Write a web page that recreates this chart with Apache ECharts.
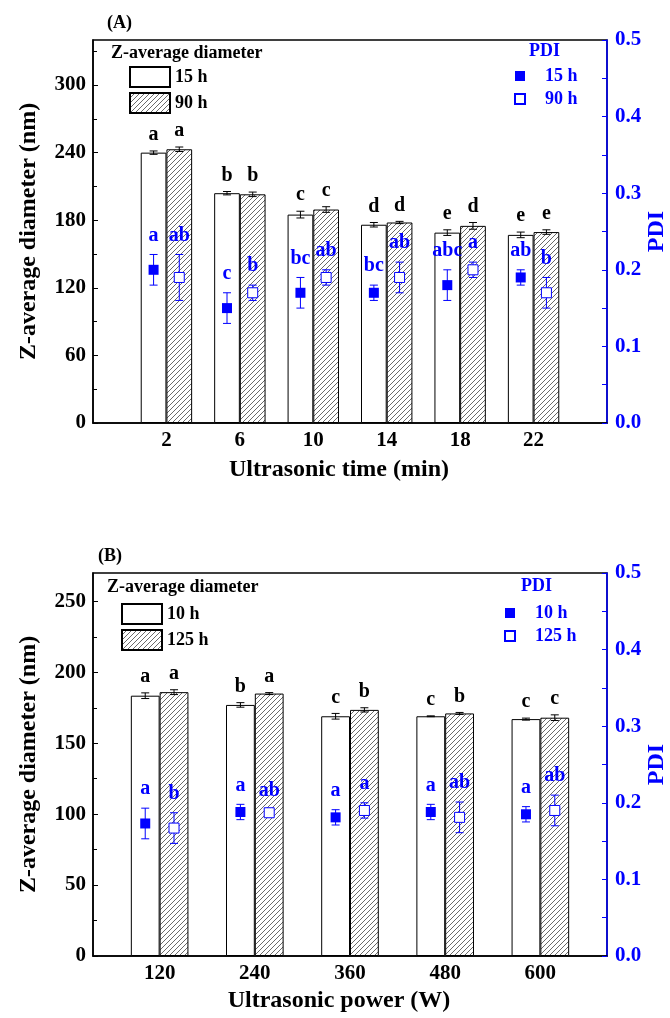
<!DOCTYPE html>
<html>
<head>
<meta charset="utf-8">
<script src="https://cdn.jsdelivr.net/npm/echarts@6/dist/echarts.min.js"></script>
<style>
  html, body { margin: 0; padding: 0; background: #fff; overflow: hidden; }
  #chart { width: 670px; height: 1018px; }
</style>
</head>
<body>
<div id="chart"></div>
<script>
// ---- Panel A: ultrasonic time ----
const timeMin = [2, 6, 10, 14, 18, 22];
const zAvg15h = [240, 204, 185, 176, 169, 167];
const zErr15h = [1.5, 1.5, 3, 2, 2.5, 2.5];
const zAvg90h = [243, 203, 189.5, 178, 175, 169.5];
const zErr90h = [2, 2, 2.5, 1, 3, 2];
const pdi15h = [0.20, 0.15, 0.17, 0.17, 0.18, 0.19];
const pdiErr15h = [0.02, 0.02, 0.02, 0.01, 0.02, 0.01];
const pdi90h = [0.19, 0.17, 0.19, 0.19, 0.20, 0.17];
const pdiErr90h = [0.03, 0.01, 0.01, 0.02, 0.01, 0.02];
const sigZ15h = ['a', 'b', 'c', 'd', 'e', 'e'];
const sigZ90h = ['a', 'b', 'c', 'd', 'd', 'e'];
const sigP15h = ['a', 'c', 'bc', 'bc', 'abc', 'ab'];
const sigP90h = ['ab', 'b', 'ab', 'ab', 'a', 'b'];
const zTicksA = [0, 60, 120, 180, 240, 300];
const zMinorTicksA = [30, 90, 150, 210, 270, 330];

// ---- Panel B: ultrasonic power ----
const powerW = [120, 240, 360, 480, 600];
const zAvg10h = [183.5, 177, 169, 169, 167];
const zErr10h = [2, 1.6, 2, 0.3, 0.7];
const zAvg125h = [186, 185, 173.5, 171, 168];
const zErr125h = [1.7, 0.7, 1.5, 0.7, 2];
const pdi10h = [0.173, 0.188, 0.181, 0.188, 0.185];
const pdiErr10h = [0.02, 0.01, 0.01, 0.01, 0.01];
const pdi125h = [0.167, 0.187, 0.19, 0.181, 0.19];
const pdiErr125h = [0.02, 0.004, 0.01, 0.02, 0.02];
const sigZ10h = ['a', 'b', 'c', 'c', 'c'];
const sigZ125h = ['a', 'a', 'b', 'b', 'c'];
const sigP10h = ['a', 'a', 'a', 'a', 'a'];
const sigP125h = ['b', 'ab', 'a', 'ab', 'ab'];
const zTicksB = [0, 50, 100, 150, 200, 250];
const zMinorTicksB = [25, 75, 125, 175, 225];

const FONT = '"Liberation Serif", "Times New Roman", serif';
const BLUE = '#0000ff';

// diagonal hatch tile for the longer-storage bars
function hatchTile() {
  const s = 5;
  const c = document.createElement('canvas');
  c.width = s; c.height = s;
  const g = c.getContext('2d');
  g.fillStyle = '#fff';
  g.fillRect(0, 0, s, s);
  g.strokeStyle = '#444';
  g.lineWidth = 0.8;
  g.beginPath();
  g.moveTo(0, s); g.lineTo(s, 0);
  g.moveTo(-1, 1); g.lineTo(1, -1);
  g.moveTo(s - 1, s + 1); g.lineTo(s + 1, s - 1);
  g.stroke();
  return c;
}
const HATCH = { image: hatchTile(), repeat: 'repeat' };

function zip(xs, ys, es) {
  return xs.map((x, i) => es ? [x, ys[i], es[i]] : [x, ys[i]]);
}

// error bar plus significance letter, shifted sideways by `offset` px
function errorRenderer(offset, color, letters, letterColor, lift) {
  return function (params, api) {
    const x = api.value(0), v = api.value(1), e = api.value(2);
    const t = api.coord([x, v + e]);
    const b = api.coord([x, v - e]);
    const cx = t[0] + offset, cap = 4;
    const st = { stroke: color, lineWidth: 1 };
    return {
      type: 'group',
      children: [
        { type: 'line', shape: { x1: cx, y1: t[1], x2: cx, y2: b[1] }, style: st },
        { type: 'line', shape: { x1: cx - cap, y1: t[1], x2: cx + cap, y2: t[1] }, style: st },
        { type: 'line', shape: { x1: cx - cap, y1: b[1], x2: cx + cap, y2: b[1] }, style: st },
        {
          type: 'text', x: cx, y: t[1] - lift,
          style: {
            text: letters[params.dataIndex], fill: letterColor,
            font: 'bold 20px ' + FONT, align: 'center', verticalAlign: 'bottom'
          }
        }
      ]
    };
  };
}

const grids = [], xAxes = [], yAxes = [], series = [], legends = [], titles = [];

function addPanel(cfg) {
  const gi = grids.length;
  grids.push({
    left: 93, right: 63, top: cfg.top, height: 383,
    outerBoundsMode: 'none', containLabel: false,
    show: true, borderColor: '#000', borderWidth: 1.5, backgroundColor: 'transparent'
  });
  xAxes.push({
    gridIndex: gi, type: 'value', min: cfg.xMin, max: cfg.xMax,
    axisLine: { onZero: false, lineStyle: { color: '#000', width: 1.5 } },
    axisTick: { show: false },
    splitLine: { show: false },
    axisLabel: {
      customValues: cfg.xs, margin: 7,
      fontFamily: FONT, fontWeight: 'bold', fontSize: 21, color: '#000'
    },
    name: cfg.xName, nameLocation: 'middle', nameGap: cfg.xNameGap,
    nameTextStyle: {
      fontFamily: FONT, fontWeight: 'bold', fontSize: 24, color: '#000',
      padding: [0, 22, 0, 0]
    }
  });
  const zi = yAxes.length;
  yAxes.push({
    gridIndex: gi, type: 'value', position: 'left', min: 0, max: cfg.zMax,
    axisLine: { show: true, onZero: false, lineStyle: { color: '#000', width: 1.5 } },
    axisTick: { inside: true, length: 5, customValues: cfg.zTicks, lineStyle: { color: '#000' } },
    splitLine: { show: false },
    axisLabel: {
      customValues: cfg.zTicks, margin: 7,
      fontFamily: FONT, fontWeight: 'bold', fontSize: 21, color: '#000'
    },
    name: 'Z-average diameter (nm)', nameLocation: 'middle', nameGap: 52, nameRotate: 90,
    nameTextStyle: { fontFamily: FONT, fontWeight: 'bold', fontSize: 24, color: '#000' }
  });
  yAxes.push({
    gridIndex: gi, type: 'value', position: 'left', min: 0, max: cfg.zMax,
    axisLine: { show: false, onZero: false },
    axisTick: { inside: true, length: 4, customValues: cfg.zMinor, lineStyle: { color: '#000' } },
    axisLabel: { show: false },
    splitLine: { show: false }
  });
  const pi = yAxes.length;
  yAxes.push({
    gridIndex: gi, type: 'value', position: 'right', min: 0, max: 0.5, interval: 0.1,
    axisLine: { show: true, onZero: false, lineStyle: { color: BLUE, width: 1.5 } },
    axisTick: { inside: true, length: 5, lineStyle: { color: BLUE } },
    minorTick: { show: true, splitNumber: 2, length: 5, lineStyle: { color: BLUE } },
    splitLine: { show: false },
    minorSplitLine: { show: false },
    axisLabel: {
      margin: 8, formatter: v => v.toFixed(1),
      fontFamily: FONT, fontWeight: 'bold', fontSize: 21, color: BLUE
    },
    name: 'PDI', nameLocation: 'middle', nameGap: 38, nameRotate: 90, nameMoveOverlap: false,
    nameTextStyle: { fontFamily: FONT, fontWeight: 'bold', fontSize: 24, color: BLUE }
  });

  const w = cfg.barW;
  const s = cfg.sets;
  series.push(
    {
      type: 'bar', name: 'Z ' + s[0].label, xAxisIndex: gi, yAxisIndex: zi,
      barWidth: w, barGap: '0%', z: 2,
      itemStyle: { color: '#fff', borderColor: '#000', borderWidth: 1 },
      data: zip(cfg.xs, s[0].z)
    },
    {
      type: 'bar', name: 'Z ' + s[1].label, xAxisIndex: gi, yAxisIndex: zi,
      barWidth: w, barGap: '0%', z: 2,
      itemStyle: { color: HATCH, borderColor: '#000', borderWidth: 1 },
      data: zip(cfg.xs, s[1].z)
    },
    {
      type: 'custom', xAxisIndex: gi, yAxisIndex: zi, z: 3, silent: true, clip: false,
      renderItem: errorRenderer(-w / 2, '#000', s[0].zSig, '#000', 6),
      data: zip(cfg.xs, s[0].z, s[0].zErr)
    },
    {
      type: 'custom', xAxisIndex: gi, yAxisIndex: zi, z: 3, silent: true, clip: false,
      renderItem: errorRenderer(w / 2, '#000', s[1].zSig, '#000', 6),
      data: zip(cfg.xs, s[1].z, s[1].zErr)
    },
    {
      type: 'custom', xAxisIndex: gi, yAxisIndex: pi, z: 4, silent: true, clip: false,
      renderItem: errorRenderer(-w / 2, BLUE, s[0].pSig, BLUE, 9),
      data: zip(cfg.xs, s[0].p, s[0].pErr)
    },
    {
      type: 'custom', xAxisIndex: gi, yAxisIndex: pi, z: 4, silent: true, clip: false,
      renderItem: errorRenderer(w / 2, BLUE, s[1].pSig, BLUE, 9),
      data: zip(cfg.xs, s[1].p, s[1].pErr)
    },
    {
      type: 'scatter', name: 'PDI ' + s[0].label, xAxisIndex: gi, yAxisIndex: pi, z: 5,
      symbol: 'rect', symbolSize: 10, symbolOffset: [-w / 2, 0],
      itemStyle: { color: BLUE, opacity: 1 },
      data: zip(cfg.xs, s[0].p)
    },
    {
      type: 'scatter', name: 'PDI ' + s[1].label, xAxisIndex: gi, yAxisIndex: pi, z: 5,
      symbol: 'rect', symbolSize: 10, symbolOffset: [w / 2, 0],
      itemStyle: { color: '#fff', borderColor: BLUE, borderWidth: 1, opacity: 1 },
      data: zip(cfg.xs, s[1].p)
    }
  );

  const strip = n => n.replace(/^\S+ /, '');
  legends.push({
    left: cfg.zLeg[0], top: cfg.zLeg[1], orient: 'vertical', padding: 0,
    icon: 'rect', itemWidth: 40, itemHeight: 20, itemGap: 4, selectedMode: false,
    data: ['Z ' + s[0].label, 'Z ' + s[1].label], formatter: strip,
    textStyle: { fontFamily: FONT, fontWeight: 'bold', fontSize: 18, color: '#000' }
  });
  legends.push({
    left: cfg.pLeg[0], top: cfg.pLeg[1], orient: 'vertical', padding: 0,
    icon: 'rect', itemWidth: 10, itemHeight: 10, itemGap: 3, selectedMode: false,
    data: ['PDI ' + s[0].label, 'PDI ' + s[1].label], formatter: strip,
    textStyle: {
      fontFamily: FONT, fontWeight: 'bold', fontSize: 18, color: BLUE,
      lineHeight: 20, padding: [0, 0, 0, 15]
    }
  });

  const head = { fontFamily: FONT, fontWeight: 'bold', fontSize: 18 };
  titles.push(
    { text: cfg.tag, left: cfg.tagPos[0], top: cfg.tagPos[1], padding: 0,
      textStyle: Object.assign({ color: '#000' }, head) },
    { text: 'Z-average diameter', left: cfg.zHead[0], top: cfg.zHead[1], padding: 0,
      textStyle: Object.assign({ color: '#000' }, head) },
    { text: 'PDI', left: cfg.pHead[0], top: cfg.pHead[1], padding: 0,
      textStyle: Object.assign({ color: BLUE }, head) }
  );
}

addPanel({
  top: 40, xMin: -2, xMax: 26, xs: timeMin, barW: 25.7,
  xName: 'Ultrasonic time (min)', xNameGap: 35,
  zMax: 340, zTicks: zTicksA, zMinor: zMinorTicksA,
  tag: '(A)', tagPos: [107, 14], zHead: [111, 44], pHead: [529, 42],
  zLeg: [129, 66], pLeg: [514, 66],
  sets: [
    { label: '15 h', z: zAvg15h, zErr: zErr15h, p: pdi15h, pErr: pdiErr15h, zSig: sigZ15h, pSig: sigP15h },
    { label: '90 h', z: zAvg90h, zErr: zErr90h, p: pdi90h, pErr: pdiErr90h, zSig: sigZ90h, pSig: sigP90h }
  ]
});

addPanel({
  top: 573, xMin: 36, xMax: 684, xs: powerW, barW: 28.8,
  xName: 'Ultrasonic power (W)', xNameGap: 33,
  zMax: 270, zTicks: zTicksB, zMinor: zMinorTicksB,
  tag: '(B)', tagPos: [98, 547], zHead: [107, 578], pHead: [521, 577],
  zLeg: [121, 603], pLeg: [504, 603],
  sets: [
    { label: '10 h', z: zAvg10h, zErr: zErr10h, p: pdi10h, pErr: pdiErr10h, zSig: sigZ10h, pSig: sigP10h },
    { label: '125 h', z: zAvg125h, zErr: zErr125h, p: pdi125h, pErr: pdiErr125h, zSig: sigZ125h, pSig: sigP125h }
  ]
});

const chart = echarts.init(document.getElementById('chart'), null, {
  renderer: 'canvas', width: 670, height: 1018
});
chart.setOption({
  backgroundColor: '#fff',
  animation: false,
  title: titles,
  legend: legends,
  grid: grids,
  xAxis: xAxes,
  yAxis: yAxes,
  series: series
});
</script>
</body>
</html>
